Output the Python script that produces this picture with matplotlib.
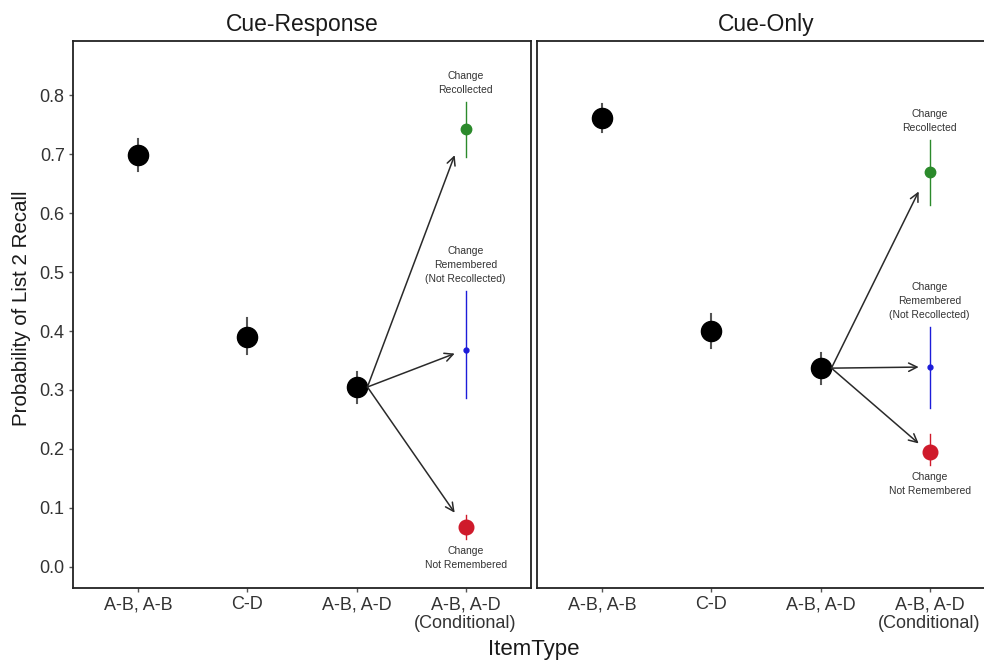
import matplotlib.pyplot as plt

plt.rcParams['font.family'] = ['Liberation Sans', 'DejaVu Sans']

# Kategorier og paneler
item_types = ['A-B, A-B', 'C-D', 'A-B, A-D', 'A-B, A-D\n(Conditional)']
panels = ['Cue-Response', 'Cue-Only']

# Sorte punkter (A-B,A-B / C-D / A-B,A-D): middel, nedre, øvre
cr_main = [0.698, 0.390, 0.305]
cr_main_lo = [0.671, 0.361, 0.278]
cr_main_hi = [0.725, 0.422, 0.331]
co_main = [0.761, 0.400, 0.337]
co_main_lo = [0.738, 0.372, 0.310]
co_main_hi = [0.785, 0.428, 0.363]

# Betingede punkter (Recollected / Remembered / Not Remembered)
cond_labels = ['Change\nRecollected', 'Change\nRemembered\n(Not Recollected)',
               'Change\nNot Remembered']
cond_colors = ['#2b8a2b', '#1c1cd9', '#cf1a2b']
cond_sizes = [7.5, 3.5, 10.5]
cr_cond = [0.742, 0.368, 0.068]
cr_cond_lo = [0.695, 0.286, 0.047]
cr_cond_hi = [0.788, 0.468, 0.088]
co_cond = [0.670, 0.339, 0.195]
co_cond_lo = [0.614, 0.269, 0.172]
co_cond_hi = [0.724, 0.407, 0.225]

data = {
    'Cue-Response': (cr_main, cr_main_lo, cr_main_hi, cr_cond, cr_cond_lo, cr_cond_hi),
    'Cue-Only': (co_main, co_main_lo, co_main_hi, co_cond, co_cond_lo, co_cond_hi),
}

fig = plt.figure(figsize=(9.84, 6.63), dpi=100)
W, H = 984, 663
bottom, top = 588, 41
axes = [fig.add_axes([73 / W, 1 - bottom / H, 458 / W, (bottom - top) / H]),
        fig.add_axes([537 / W, 1 - bottom / H, 458 / W, (bottom - top) / H])]

for ax, panel in zip(axes, panels):
    m, lo, hi, c, clo, chi = data[panel]
    xs = [1, 2, 3]
    for x, v, l, h in zip(xs, m, lo, hi):
        ax.plot([x, x], [l, h], color='#555555', lw=1.5, zorder=2)
        ax.plot(x, v, 'o', color='black', ms=14.5, zorder=3)
    y0 = m[2]
    for i in range(3):
        ax.plot([4, 4], [clo[i], chi[i]], color=cond_colors[i], lw=1.0, zorder=2)
        ax.plot(4, c[i], 'o', color=cond_colors[i], ms=cond_sizes[i], zorder=3)
        yend = y0 + 0.9 * (c[i] - y0)
        ax.annotate('', xy=(3.9, yend), xytext=(3.1, y0),
                    arrowprops=dict(arrowstyle='->', color='#2a2a2a', lw=1.1,
                                    mutation_scale=15, shrinkA=0, shrinkB=0))
        if i < 2:
            ax.text(4, chi[i] + 0.012, cond_labels[i], ha='center', va='bottom',
                    fontsize=7.5, color='#333333', linespacing=1.5)
        else:
            ax.text(4, clo[i] - 0.012, cond_labels[i], ha='center', va='top',
                    fontsize=7.5, color='#333333', linespacing=1.5)

    ax.set_xlim(0.4, 4.6)
    ax.set_ylim(-0.036, 0.892)
    ax.set_xticks([1, 2, 3, 4])
    ax.set_xticklabels(item_types, fontsize=13, color='#333333', linespacing=1.15)
    ax.set_yticks([0, 0.1, 0.2, 0.3, 0.4, 0.5, 0.6, 0.7, 0.8])
    ax.tick_params(axis='both', length=3, width=1, color='#555555', pad=3)
    for s in ax.spines.values():
        s.set_linewidth(1.3)
        s.set_color('#222222')
    ax.set_title(panel, fontsize=16.5, pad=7, color='#1a1a1a')

axes[0].set_yticklabels(['0.0', '0.1', '0.2', '0.3', '0.4', '0.5', '0.6', '0.7', '0.8'],
                        fontsize=13, color='#333333')
axes[1].tick_params(axis='y', left=False, labelleft=False)

fig.text(22 / W, 1 - 308 / H, 'Probability of List 2 Recall', rotation=90,
         ha='center', va='center', fontsize=14.8, color='#1a1a1a')
fig.text(534 / W, 1 - 650 / H, 'ItemType', ha='center', va='center', fontsize=16,
         color='#1a1a1a')

plt.savefig('out.png', dpi=100)
